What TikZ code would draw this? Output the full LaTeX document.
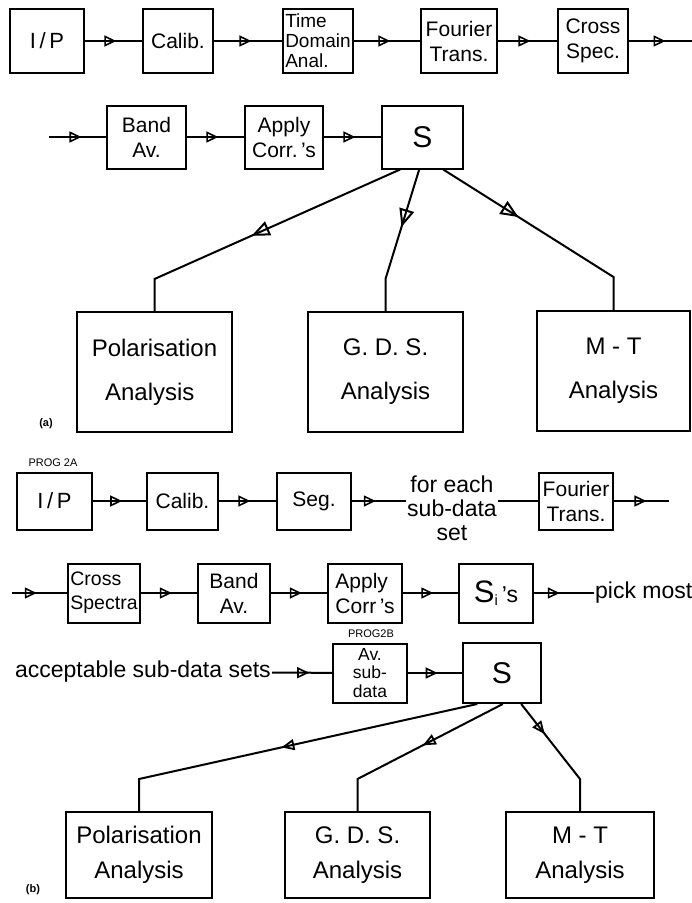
\documentclass[tikz,border=0pt]{standalone}
\usepackage{fontspec}
\setmainfont{Liberation Sans}
\usetikzlibrary{arrows.meta,decorations.markings,calc,positioning}

\tikzset{
  blk/.style={draw, line width=2pt, inner sep=1pt, align=center, font={\fontsize{21}{25}\selectfont}},
  sz/.style 2 args={minimum width=#1pt, minimum height=#2pt},
  word/.style={inner sep=1pt, align=center, font={\fontsize{23}{24}\selectfont}},
  tag/.style={inner sep=0pt, font={\fontsize{11}{12}\selectfont}},
  flow/.style={line width=2pt, postaction={decorate},
    decoration={markings, mark=at position #1 with {\arrow{Triangle[open,length=12pt,width=11pt,line width=1.6pt]}}}},
  flow/.default=0.55,
  fork/.style={line width=2pt, postaction={decorate},
    decoration={markings, mark=at position #1 with {\arrow{Triangle[open,length=18pt,width=15pt,line width=2pt]}}}},
  twig/.style={line width=2pt, postaction={decorate},
    decoration={markings, mark=at position #1 with {\arrow{Triangle[open,length=13pt,width=11pt,line width=1.8pt]}}}}
}

\begin{document}
\begin{tikzpicture}[x=1pt,y=1pt]
\useasboundingbox (0,0) rectangle (692,-903);

% (a) first row
\node[blk, sz={74}{64}, font={\fontsize{22}{25}\selectfont}] (ipa) at (47,-41) {I\,/\,P};
\node[blk, sz={70}{64}] (cala) at (178,-41) {Calib.};
\node[blk, sz={70}{64}, align=left, font={\fontsize{19}{20}\selectfont}] (tdaa) at (318,-41) {Time\\Domain\\Anal.};
\node[blk, sz={76}{64}] (fta) at (459,-41) {Fourier\\Trans.};
\node[blk, sz={70}{64}] (csa) at (593,-41) {Cross\\Spec.};
\coordinate (outa) at (692,-41);
\draw[flow] (ipa) -- (cala);
\draw[flow] (cala) -- (tdaa);
\draw[flow] (tdaa) -- (fta);
\draw[flow] (fta) -- (csa);
\draw[flow=0.58] (csa) -- (outa);

% (a) second row
\coordinate (ina) at (49,-137);
\node[blk, sz={79}{63}] (banda) at (146.5,-137) {Band\\Av.};
\node[blk, sz={78}{63}] (appa) at (284,-137) {Apply\\Corr.\,'s};
\node[blk, sz={81}{63}, font={\fontsize{30}{30}\selectfont}] (Sa) at (422.5,-137) {S};
\draw[flow=0.57] (ina) -- (banda);
\draw[flow] (banda) -- (appa);
\draw[flow] (appa) -- (Sa);

% (a) analyses
\node[blk, sz={155}{120}, align=left, font={\fontsize{24}{44}\selectfont}] (pola) at (154.5,-372) {Polarisation\\\ \ Analysis};
\node[blk, sz={155}{120}, font={\fontsize{24}{44}\selectfont}] (gdsa) at (385.5,-372) {G.\ D.\ S.\\Analysis};
\node[blk, sz={153}{120}, font={\fontsize{24}{44}\selectfont}] (mta) at (613.5,-371) {M - T\\Analysis};
\coordinate (ka1) at ($(pola.north)+(0,32)$);
\coordinate (ka2) at ($(gdsa.north)+(0,32)$);
\coordinate (ka3) at ($(mta.north)+(0,33)$);
\draw[fork=0.54] ($(Sa.south west)!0.23!(Sa.south east)$) -- (ka1) -- (pola.north);
\draw[fork=0.41] ($(Sa.south west)!0.46!(Sa.south east)$) -- (ka2) -- (gdsa.north);
\draw[fork=0.38] ($(Sa.south west)!0.75!(Sa.south east)$) -- (ka3) -- (mta.north);
\node[tag, font={\fontsize{11}{12}\selectfont\bfseries}] (laba) at (46,-424) {(a)};

% (b) first row
\node[tag] (proga) at (53,-463) {PROG 2A};
\node[blk, sz={75}{57}, font={\fontsize{22}{25}\selectfont}] (ipb) at (54.5,-501) {I\,/\,P};
\node[blk, sz={71}{57}] (calb) at (182.5,-501) {Calib.};
\node[blk, sz={74}{57}] (segb) at (314,-501) {Seg.};
\node[word] (each) at (452,-508) {for each\\sub-data\\set};
\node[blk, sz={74}{57}] (ftb) at (576,-501) {Fourier\\Trans.};
\coordinate (outb) at (669,-501);
\draw[flow] (ipb) -- (calb);
\draw[flow] (calb) -- (segb);
\draw[flow=0.44] (segb) -- (each.west |- segb);
\draw[line width=2pt] (each.east |- ftb) -- (ftb);
\draw[flow=0.59] (ftb) -- (outb);

% (b) second row
\coordinate (inb) at (12,-593);
\node[blk, sz={72}{59}, align=left, font={\fontsize{19.5}{24}\selectfont}] (csb) at (104,-593) {Cross\\Spectra};
\node[blk, sz={72}{59}] (bandb) at (234,-593) {Band\\Av.};
\node[blk, sz={74}{59}, align=left] (appb) at (365,-593) {Apply\\Corr\,'s};
\node[blk, sz={74}{59}] (sib) at (496,-593) {{\fontsize{31}{31}\selectfont S}\textsubscript{i}\,{\fontsize{23}{23}\selectfont 's}};
\node[word, anchor=west] (pick) at (594,-593) {pick most};
\draw[flow=0.45] (inb) -- (csb);
\draw[flow] (csb) -- (bandb);
\draw[flow] (bandb) -- (appb);
\draw[flow] (appb) -- (sib);
\draw[flow=0.43] (sib) -- (pick);

% (b) third row
\node[tag] (progb) at (371,-634) {PROG2B};
\node[word, anchor=east] (acc) at (272,-672) {acceptable sub-data sets};
\node[blk, sz={74}{59}, font={\fontsize{17.5}{18.5}\selectfont}] (avb) at (370,-673) {Av.\\sub-\\data};
\node[blk, sz={78}{60}, font={\fontsize{30}{30}\selectfont}] (Sb) at (502,-673) {S};
\draw[flow=0.62] (acc) -- (avb);
\draw[flow] (avb) -- (Sb);

% (b) analyses
\node[blk, sz={146}{86}, font={\fontsize{24}{35}\selectfont}] (polb) at (139,-855) {Polarisation\\Analysis};
\node[blk, sz={145}{86}, font={\fontsize{24}{35}\selectfont}] (gdsb) at (357.5,-855) {G.\ D.\ S.\\Analysis};
\node[blk, sz={148}{86}, font={\fontsize{24}{35}\selectfont}] (mtb) at (580,-855) {M - T\\Analysis};
\coordinate (kb1) at ($(polb.north)+(0,32)$);
\coordinate (kb2) at ($(gdsb.north)+(0,32)$);
\coordinate (kb3) at ($(mtb.north)+(0,32)$);
\draw[twig=0.53] ($(Sb.south west)!0.19!(Sb.south east)$) -- (kb1) -- (polb.north);
\draw[twig=0.46] ($(Sb.south west)!0.51!(Sb.south east)$) -- (kb2) -- (gdsb.north);
\draw[twig=0.30] ($(Sb.south west)!0.74!(Sb.south east)$) -- (kb3) -- (mtb.north);
\node[tag, font={\fontsize{11}{12}\selectfont\bfseries}] (labb) at (33,-890) {(b)};
\end{tikzpicture}
\end{document}
